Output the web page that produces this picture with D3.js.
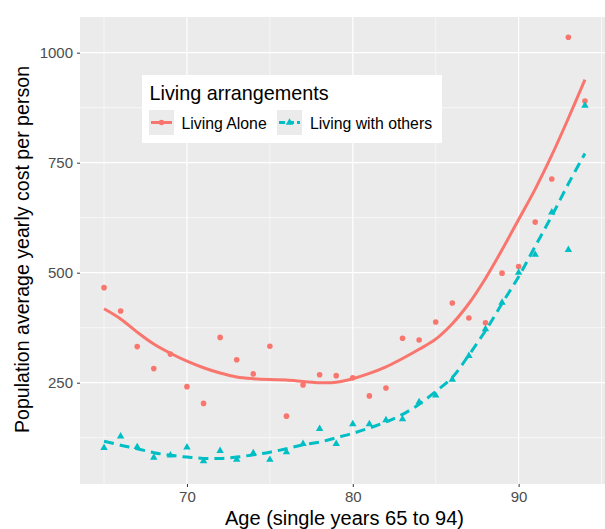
<!DOCTYPE html>
<html><head><meta charset="utf-8">
<script src="https://cdn.jsdelivr.net/npm/d3@7"></script>
<style>body{margin:0;background:#fff}svg{display:block}text{font-family:"Liberation Sans",Arial,sans-serif}</style>
</head><body><svg id="c" width="605" height="529"></svg>
<script>
const ages = d3.range(65, 95);
const aloneValues = [466,413,332,282,315,241,203,353,302,270,333,174,245,268,266,261,220,238,351,347,388,431,397,386,499,514,615,713,1035,890];
const othersValues = [102,128,104,80,85,103,72,95,75,90,75,92,111,145,111,156,156,165,167,206,221,257,311,372,432,500,541,637,552,880];
const aloneSmooth = [418,395,365,338,317,299,284,272,263,259,257,256,253,250,251,259,271,286,305,326,349,384,430,487,552,621,690,767,851,939];
const othersSmooth = [117,108,100,91,85,81,78,78,81,86,92,100,109,115,125,135,147,161,178,201,230,262,313,368,430,491,560,629,702,771];
const yTicks = [250,500,750,1000];
const xTicks = [70,80,90];
const seriesNames = ["Living Alone","Living with others"];
const colors = ["#F8766D","#00BFC4"];

const svg = d3.select("#c");
const L = 80, R = 609, T = 17, B = 484;
const x = d3.scaleLinear().domain([63.55, 95.45]).range([L, R]);
const y = d3.scaleLinear().domain([0, 1000]).range([492.7, 52.7]);

svg.append("rect").attr("x", L).attr("y", T).attr("width", R - L).attr("height", B - T).attr("fill", "#EBEBEB");
const g = svg.append("g");
[65,75,85,95].forEach(v => g.append("line").attr("x1", x(v)).attr("x2", x(v)).attr("y1", T).attr("y2", B).attr("stroke", "#fff").attr("stroke-width", 0.6));
[125,375,625,875].forEach(v => g.append("line").attr("y1", y(v)).attr("y2", y(v)).attr("x1", L).attr("x2", R).attr("stroke", "#fff").attr("stroke-width", 0.6));
xTicks.forEach(v => g.append("line").attr("x1", x(v)).attr("x2", x(v)).attr("y1", T).attr("y2", B).attr("stroke", "#fff").attr("stroke-width", 1.2));
yTicks.forEach(v => g.append("line").attr("y1", y(v)).attr("y2", y(v)).attr("x1", L).attr("x2", R).attr("stroke", "#fff").attr("stroke-width", 1.2));

const yAxis = svg.append("g").attr("transform", `translate(${L},0)`).call(d3.axisLeft(y).tickValues(yTicks).tickFormat(d3.format("d")).tickSize(3).tickPadding(4));
const xAxis = svg.append("g").attr("transform", `translate(0,${B})`).call(d3.axisBottom(x).tickValues(xTicks).tickFormat(d3.format("d")).tickSize(3).tickPadding(4));
[yAxis, xAxis].forEach(a => {
  a.select(".domain").remove();
  a.selectAll(".tick line").attr("stroke", "#333");
  a.selectAll(".tick text").attr("fill", "#4D4D4D").style("font-size", "15px");
});

const line = d3.line().x((d, i) => x(ages[i])).y(d => y(d)).curve(d3.curveCatmullRom);
svg.append("path").attr("d", line(aloneSmooth)).attr("fill", "none").attr("stroke", colors[0]).attr("stroke-width", 3);
svg.append("path").attr("d", line(othersSmooth)).attr("fill", "none").attr("stroke", colors[1]).attr("stroke-width", 3).attr("stroke-dasharray", "10,6");

svg.append("g").selectAll("circle").data(aloneValues).join("circle")
  .attr("cx", (d, i) => x(ages[i])).attr("cy", d => y(d)).attr("r", 2.8).attr("fill", colors[0]);
const tri = d3.symbol().type(d3.symbolTriangle).size(24);
svg.append("g").selectAll("path").data(othersValues).join("path")
  .attr("d", tri).attr("transform", (d, i) => `translate(${x(ages[i])},${y(d)})`).attr("fill", colors[1]);

svg.append("text").attr("x", (L + R) / 2).attr("y", 524.5).attr("text-anchor", "middle").style("font-size", "20px").attr("fill", "#000").text("Age (single years 65 to 94)");
svg.append("text").attr("transform", `translate(28.5,${(T + B) / 2 - 1}) rotate(-90)`).attr("text-anchor", "middle").style("font-size", "19.6px").attr("fill", "#000").text("Population average yearly cost per person");

const lg = svg.append("g");
lg.append("rect").attr("x", 142).attr("y", 75).attr("width", 300).attr("height", 68).attr("fill", "#fff");
lg.append("text").attr("x", 149.5).attr("y", 99.5).style("font-size", "19.8px").attr("fill", "#000").text("Living arrangements");
const keys = [{kx: 149, tx: 181.5}, {kx: 277, tx: 310}];
keys.forEach((k, i) => {
  lg.append("rect").attr("x", k.kx).attr("y", 110).attr("width", 25).attr("height", 25).attr("fill", "#EBEBEB");
  lg.append("line").attr("x1", k.kx + 2).attr("x2", k.kx + 23).attr("y1", 122.5).attr("y2", 122.5).attr("stroke", colors[i]).attr("stroke-width", 3).attr("stroke-dasharray", i ? "6,3" : null);
  if (i === 0) lg.append("circle").attr("cx", k.kx + 12.5).attr("cy", 122.5).attr("r", 2.8).attr("fill", colors[i]);
  else lg.append("path").attr("d", tri).attr("transform", `translate(${k.kx + 12.5},122.5)`).attr("fill", colors[i]);
  lg.append("text").attr("x", k.tx).attr("y", 128.5).style("font-size", "15.8px").attr("fill", "#000").text(seriesNames[i]);
});
</script></body></html>
